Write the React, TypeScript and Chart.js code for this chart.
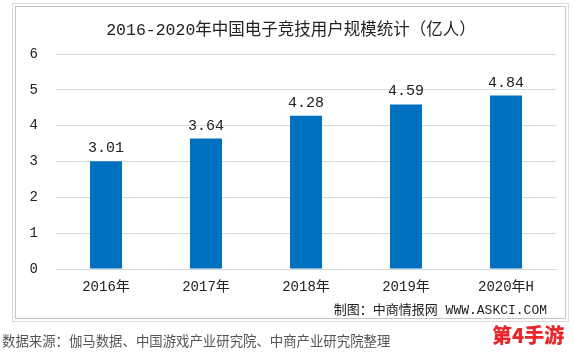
import React, { useEffect, useRef } from "react";
import { Chart, registerables } from "chart.js";

Chart.register(...registerables);

const title = "2016-2020年中国电子竞技用户规模统计（亿人）";
const categories = ["2016年", "2017年", "2018年", "2019年", "2020年H"];
const users = [3.01, 3.64, 4.28, 4.59, 4.84];
const yMin = 0;
const yMax = 6;
const yStep = 1;
const credit = "制图：中商情报网 WWW.ASKCI.COM";
const sourceNote = "数据来源：伽马数据、中国游戏产业研究院、中商产业研究院整理";
const brand = "第4手游";

const FONT = "'Liberation Mono', 'Noto Sans CJK SC', monospace";

export default function App() {
  const ref = useRef<HTMLCanvasElement | null>(null);

  useEffect(() => {
    if (!ref.current) return;
    const valueLabels = {
      id: "valueLabels",
      afterDatasetsDraw(chart: any) {
        const ctx = chart.ctx;
        const meta = chart.getDatasetMeta(0);
        ctx.save();
        ctx.font = `15px ${FONT}`;
        ctx.fillStyle = "#222";
        ctx.textAlign = "center";
        ctx.textBaseline = "middle";
        meta.data.forEach((el: any, i: number) => {
          ctx.fillText(users[i].toFixed(2), el.x, el.y - 13);
        });
        ctx.restore();
      },
    };
    const titleDraw = {
      id: "titleDraw",
      afterDraw(chart: any) {
        const ctx = chart.ctx;
        ctx.save();
        ctx.font = `16.5px ${FONT}`;
        ctx.fillStyle = "#222";
        ctx.textAlign = "center";
        ctx.textBaseline = "middle";
        ctx.fillText(title, 291, 31);
        ctx.font = `13px ${FONT}`;
        ctx.textAlign = "right";
        ctx.fillText(credit, 547, 311);
        ctx.restore();
      },
    };
    const chart = new Chart(ref.current, {
      type: "bar",
      data: {
        labels: categories,
        datasets: [
          {
            data: users,
            backgroundColor: "#0070C0",
            barPercentage: 0.32,
            categoryPercentage: 1,
          },
        ],
      },
      options: {
        responsive: false,
        animation: false,
        layout: { padding: { top: 54, right: 18, left: 0, bottom: 0 } },
        plugins: {
          legend: { display: false },
          tooltip: { enabled: false },
          title: { display: false },
        },
        scales: {
          x: {
            grid: { display: false, drawTicks: false },
            border: { display: true, color: "#d9d9d9" },
            ticks: { color: "#222", font: { size: 14, family: FONT }, padding: 10 },
            afterFit(scale: any) {
              scale.height = 84;
            },
          },
          y: {
            min: yMin,
            max: yMax,
            grid: { color: "#d9d9d9", drawTicks: false },
            border: { display: false },
            ticks: {
              stepSize: yStep,
              color: "#222",
              font: { size: 14, family: FONT },
              padding: 18,
            },
            afterFit(scale: any) {
              scale.width = 56;
            },
          },
        },
      },
      plugins: [valueLabels, titleDraw],
    });
    return () => chart.destroy();
  }, []);

  return (
    <div
      style={{
        position: "fixed",
        left: 0,
        top: 0,
        width: 574,
        height: 353,
        background: "#fff",
        overflow: "hidden",
      }}
    >
      <div
        style={{
          position: "absolute",
          left: 12,
          top: 3,
          width: 555,
          height: 317,
          border: "1px solid #dcdcdc",
        }}
      />
      <div
        style={{
          position: "absolute",
          left: 15,
          top: 6,
          width: 549,
          height: 311,
          border: "1px solid #c4c4c4",
        }}
      />
      <canvas
        ref={ref}
        width={574}
        height={353}
        style={{ position: "absolute", left: 0, top: 0 }}
      />
      <div
        style={{
          position: "absolute",
          left: 2,
          top: 331,
          fontFamily: "'Noto Sans CJK SC', sans-serif",
          fontSize: 13.4,
          color: "#555",
          whiteSpace: "nowrap",
          lineHeight: "18px",
        }}
      >
        {sourceNote}
      </div>
      <div
        style={{
          position: "absolute",
          left: 492,
          top: 321,
          fontFamily: "'Noto Sans CJK SC', sans-serif",
          fontWeight: 900,
          fontSize: 20,
          color: "#e8262b",
          whiteSpace: "nowrap",
          lineHeight: "28px",
        }}
      >
        {brand}
      </div>
    </div>
  );
}
